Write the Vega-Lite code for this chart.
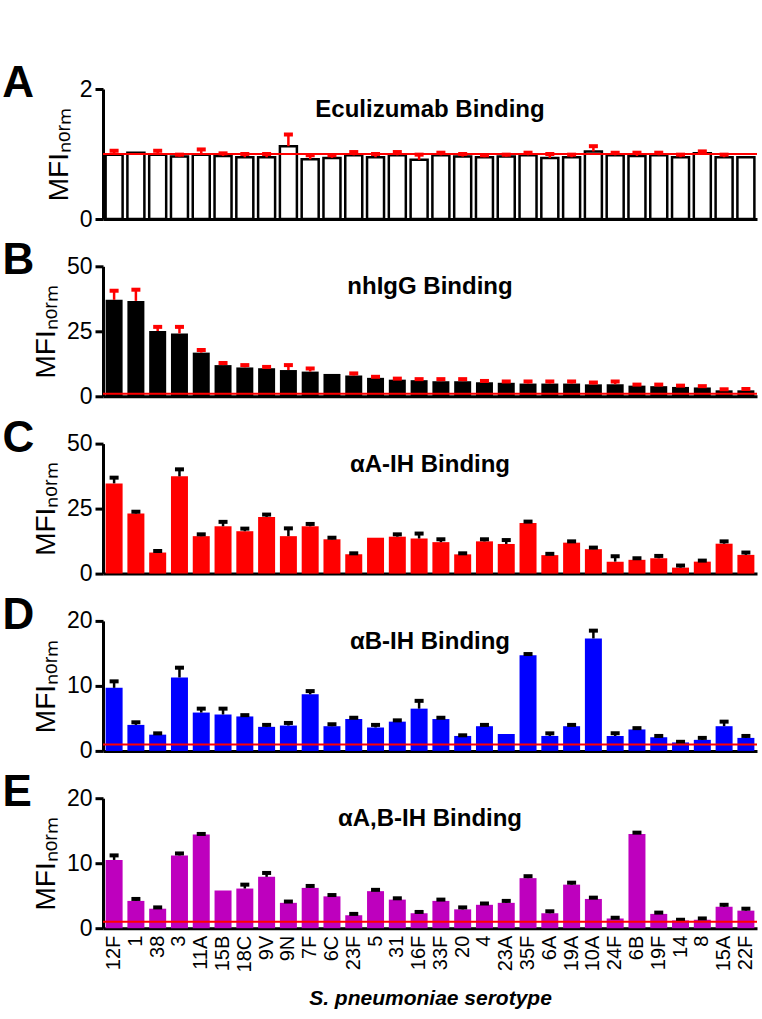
{
"$schema": "https://vega.github.io/schema/vega-lite/v6.json",
"background": "white",
"padding": {"left": 2, "top": 62, "right": 5, "bottom": 5},
"spacing": 8.3,
"datasets": {"d": [
{"s":"12F","p":"A","v":0.99,"u":1.05},{"s":"1","p":"A","v":1.02,"u":null},{"s":"38","p":"A","v":0.99,"u":1.05},{"s":"3","p":"A","v":0.96,"u":0.99},{"s":"11A","p":"A","v":0.99,"u":1.07},{"s":"15B","p":"A","v":0.97,"u":1.01},{"s":"18C","p":"A","v":0.95,"u":1.0},{"s":"9V","p":"A","v":0.95,"u":1.0},{"s":"9N","p":"A","v":1.12,"u":1.3},{"s":"7F","p":"A","v":0.92,"u":0.98},{"s":"6C","p":"A","v":0.94,"u":0.98},{"s":"23F","p":"A","v":0.98,"u":1.03},{"s":"5","p":"A","v":0.95,"u":1.0},{"s":"31","p":"A","v":0.98,"u":1.03},{"s":"16F","p":"A","v":0.91,"u":0.99},{"s":"33F","p":"A","v":0.98,"u":1.02},{"s":"20","p":"A","v":0.96,"u":1.0},{"s":"4","p":"A","v":0.95,"u":0.98},{"s":"23A","p":"A","v":0.96,"u":0.99},{"s":"35F","p":"A","v":0.98,"u":1.02},{"s":"6A","p":"A","v":0.94,"u":1.0},{"s":"19A","p":"A","v":0.95,"u":0.99},{"s":"10A","p":"A","v":1.04,"u":1.12},{"s":"24F","p":"A","v":0.98,"u":1.02},{"s":"6B","p":"A","v":0.97,"u":1.02},{"s":"19F","p":"A","v":0.98,"u":1.02},{"s":"14","p":"A","v":0.95,"u":0.99},{"s":"8","p":"A","v":1.01,"u":1.04},{"s":"15A","p":"A","v":0.95,"u":0.99},{"s":"22F","p":"A","v":0.95,"u":null},
{"s":"12F","p":"B","v":37.1,"u":40.6},{"s":"1","p":"B","v":36.7,"u":41.0},{"s":"38","p":"B","v":25.1,"u":26.7},{"s":"3","p":"B","v":24.2,"u":26.7},{"s":"11A","p":"B","v":16.8,"u":17.8},{"s":"15B","p":"B","v":12.0,"u":12.8},{"s":"18C","p":"B","v":11.1,"u":12.0},{"s":"9V","p":"B","v":10.8,"u":11.3},{"s":"9N","p":"B","v":10.1,"u":12.0},{"s":"7F","p":"B","v":9.5,"u":10.7},{"s":"6C","p":"B","v":8.6,"u":null},{"s":"23F","p":"B","v":8.0,"u":8.8},{"s":"5","p":"B","v":7.1,"u":7.5},{"s":"31","p":"B","v":6.4,"u":6.8},{"s":"16F","p":"B","v":6.2,"u":6.6},{"s":"33F","p":"B","v":5.8,"u":6.6},{"s":"20","p":"B","v":5.8,"u":6.6},{"s":"4","p":"B","v":5.4,"u":5.9},{"s":"23A","p":"B","v":5.2,"u":5.7},{"s":"35F","p":"B","v":4.9,"u":5.7},{"s":"6A","p":"B","v":4.9,"u":5.7},{"s":"19A","p":"B","v":4.9,"u":5.7},{"s":"10A","p":"B","v":4.6,"u":5.3},{"s":"24F","p":"B","v":4.6,"u":5.7},{"s":"6B","p":"B","v":4.1,"u":4.5},{"s":"19F","p":"B","v":3.9,"u":4.5},{"s":"14","p":"B","v":3.6,"u":4.1},{"s":"8","p":"B","v":3.4,"u":3.9},{"s":"15A","p":"B","v":2.3,"u":2.7},{"s":"22F","p":"B","v":2.3,"u":2.8},
{"s":"12F","p":"C","v":34.7,"u":36.9},{"s":"1","p":"C","v":23.1,"u":23.8},{"s":"38","p":"C","v":8.1,"u":8.7},{"s":"3","p":"C","v":37.4,"u":40.1},{"s":"11A","p":"C","v":14.4,"u":15.1},{"s":"15B","p":"C","v":18.2,"u":19.9},{"s":"18C","p":"C","v":16.3,"u":17.3},{"s":"9V","p":"C","v":21.8,"u":22.7},{"s":"9N","p":"C","v":14.4,"u":17.4},{"s":"7F","p":"C","v":18.2,"u":19.1},{"s":"6C","p":"C","v":13.2,"u":13.8},{"s":"23F","p":"C","v":7.4,"u":7.8},{"s":"5","p":"C","v":13.8,"u":null},{"s":"31","p":"C","v":14.2,"u":15.1},{"s":"16F","p":"C","v":13.5,"u":15.4},{"s":"33F","p":"C","v":12.1,"u":13.2},{"s":"20","p":"C","v":7.4,"u":7.8},{"s":"4","p":"C","v":12.4,"u":13.2},{"s":"23A","p":"C","v":11.4,"u":12.9},{"s":"35F","p":"C","v":19.5,"u":20.0},{"s":"6A","p":"C","v":7.1,"u":7.6},{"s":"19A","p":"C","v":11.9,"u":12.4},{"s":"10A","p":"C","v":9.4,"u":10.0},{"s":"24F","p":"C","v":4.6,"u":6.7},{"s":"6B","p":"C","v":5.3,"u":5.9},{"s":"19F","p":"C","v":5.9,"u":6.8},{"s":"14","p":"C","v":2.3,"u":3.1},{"s":"8","p":"C","v":4.6,"u":5.0},{"s":"15A","p":"C","v":11.5,"u":12.4},{"s":"22F","p":"C","v":7.2,"u":8.1},
{"s":"12F","p":"D","v":9.7,"u":10.7},{"s":"1","p":"D","v":4.0,"u":4.4},{"s":"38","p":"D","v":2.5,"u":2.7},{"s":"3","p":"D","v":11.3,"u":12.8},{"s":"11A","p":"D","v":5.9,"u":6.5},{"s":"15B","p":"D","v":5.6,"u":6.5},{"s":"18C","p":"D","v":5.3,"u":5.5},{"s":"9V","p":"D","v":3.7,"u":4.0},{"s":"9N","p":"D","v":3.9,"u":4.3},{"s":"7F","p":"D","v":8.7,"u":9.2},{"s":"6C","p":"D","v":3.8,"u":4.1},{"s":"23F","p":"D","v":4.9,"u":5.1},{"s":"5","p":"D","v":3.6,"u":4.0},{"s":"31","p":"D","v":4.5,"u":4.7},{"s":"16F","p":"D","v":6.5,"u":7.7},{"s":"33F","p":"D","v":4.9,"u":5.1},{"s":"20","p":"D","v":2.3,"u":2.4},{"s":"4","p":"D","v":3.8,"u":4.0},{"s":"23A","p":"D","v":2.6,"u":null},{"s":"35F","p":"D","v":14.7,"u":14.9},{"s":"6A","p":"D","v":2.3,"u":2.7},{"s":"19A","p":"D","v":3.8,"u":4.0},{"s":"10A","p":"D","v":17.3,"u":18.5},{"s":"24F","p":"D","v":2.3,"u":2.7},{"s":"6B","p":"D","v":3.3,"u":3.5},{"s":"19F","p":"D","v":2.1,"u":2.3},{"s":"14","p":"D","v":1.3,"u":1.4},{"s":"8","p":"D","v":1.7,"u":2.0},{"s":"15A","p":"D","v":3.8,"u":4.5},{"s":"22F","p":"D","v":2.0,"u":2.3},
{"s":"12F","p":"E","v":10.5,"u":11.2},{"s":"1","p":"E","v":4.2,"u":4.5},{"s":"38","p":"E","v":3.0,"u":3.2},{"s":"3","p":"E","v":11.2,"u":11.5},{"s":"11A","p":"E","v":14.4,"u":14.5},{"s":"15B","p":"E","v":5.8,"u":null},{"s":"18C","p":"E","v":6.1,"u":6.7},{"s":"9V","p":"E","v":7.9,"u":8.5},{"s":"9N","p":"E","v":3.9,"u":4.1},{"s":"7F","p":"E","v":6.2,"u":6.5},{"s":"6C","p":"E","v":4.9,"u":5.1},{"s":"23F","p":"E","v":2.0,"u":2.2},{"s":"5","p":"E","v":5.7,"u":5.9},{"s":"31","p":"E","v":4.4,"u":4.6},{"s":"16F","p":"E","v":2.3,"u":2.5},{"s":"33F","p":"E","v":4.2,"u":4.4},{"s":"20","p":"E","v":2.9,"u":3.2},{"s":"4","p":"E","v":3.6,"u":3.8},{"s":"23A","p":"E","v":3.9,"u":4.2},{"s":"35F","p":"E","v":7.7,"u":8.0},{"s":"6A","p":"E","v":2.3,"u":2.6},{"s":"19A","p":"E","v":6.7,"u":7.0},{"s":"10A","p":"E","v":4.5,"u":4.7},{"s":"24F","p":"E","v":1.5,"u":1.6},{"s":"6B","p":"E","v":14.5,"u":14.7},{"s":"19F","p":"E","v":2.2,"u":2.4},{"s":"14","p":"E","v":1.2,"u":1.3},{"s":"8","p":"E","v":1.3,"u":1.5},{"s":"15A","p":"E","v":3.3,"u":3.6},{"s":"22F","p":"E","v":2.7,"u":3.0}
]},
"data": {"name": "d"},
"vconcat": [
{
 "title": {"text": "A", "anchor": "start", "frame": "bounds", "fontSize": 44, "dx": -43, "dy": 63, "offset": 0, "baseline": "alphabetic"},
 "vconcat": [{
  "width": 654, "height": 130,
  "title": {"text": "Eculizumab Binding", "anchor": "middle", "frame": "group", "fontSize": 24, "dy": 63, "offset": 0, "baseline": "alphabetic"},
  "layer": [
   {"transform": [{"filter": "datum.p == 'A'"}],
    "mark": {"type": "bar", "fill": "white", "stroke": "black", "strokeWidth": 2.5},
    "encoding": {
     "x": {"field": "s", "type": "nominal", "title": null, "scale": {"domain": ["12F","1","38","3","11A","15B","18C","9V","9N","7F","6C","23F","5","31","16F","33F","20","4","23A","35F","6A","19A","10A","24F","6B","19F","14","8","15A","22F"], "paddingInner": 0.22, "paddingOuter": 0.12}, "axis": {"labels": false, "ticks": false, "title": null}},
     "y": {"field": "v", "type": "quantitative", "title": "MFIₙₒᵣₘ", "scale": {"domain": [0, 2]}, "axis": {"values": [0, 1, 2], "format": "d"}}}},
   {"transform": [{"filter": "datum.p == 'A' && datum.u != null"}],
    "mark": {"type": "rule", "color": "red", "strokeWidth": 2.5},
    "encoding": {"x": {"field": "s", "type": "nominal", "title": null}, "y": {"field": "v", "type": "quantitative", "title": "MFIₙₒᵣₘ"}, "y2": {"field": "u"}}},
   {"transform": [{"filter": "datum.p == 'A' && datum.u != null"}],
    "mark": {"type": "tick", "color": "red", "thickness": 4, "size": 9, "opacity": 1},
    "encoding": {"x": {"field": "s", "type": "nominal", "title": null}, "y": {"field": "u", "type": "quantitative", "title": "MFIₙₒᵣₘ"}}},
   {"data": {"values": [{}]},
    "mark": {"type": "rule", "color": "red", "strokeWidth": 2},
    "encoding": {"y": {"datum": 1, "type": "quantitative", "title": "MFIₙₒᵣₘ"}}}
  ]
 }]
},
{
 "title": {"text": "B", "anchor": "start", "frame": "bounds", "fontSize": 44, "dx": -30, "dy": 63, "offset": 0, "baseline": "alphabetic"},
 "vconcat": [{
  "width": 654, "height": 130,
  "title": {"text": "nhIgG Binding", "anchor": "middle", "frame": "group", "fontSize": 24, "dy": 63, "offset": 0, "baseline": "alphabetic"},
  "layer": [
   {"transform": [{"filter": "datum.p == 'B'"}],
    "mark": {"type": "bar", "fill": "black"},
    "encoding": {
     "x": {"field": "s", "type": "nominal", "title": null, "scale": {"domain": ["12F","1","38","3","11A","15B","18C","9V","9N","7F","6C","23F","5","31","16F","33F","20","4","23A","35F","6A","19A","10A","24F","6B","19F","14","8","15A","22F"], "paddingInner": 0.22, "paddingOuter": 0.12}, "axis": {"labels": false, "ticks": false, "title": null}},
     "y": {"field": "v", "type": "quantitative", "title": "MFIₙₒᵣₘ", "scale": {"domain": [0, 50]}, "axis": {"values": [0, 25, 50], "format": "d"}}}},
   {"transform": [{"filter": "datum.p == 'B' && datum.u != null"}],
    "mark": {"type": "rule", "color": "red", "strokeWidth": 2.5},
    "encoding": {"x": {"field": "s", "type": "nominal", "title": null}, "y": {"field": "v", "type": "quantitative", "title": "MFIₙₒᵣₘ"}, "y2": {"field": "u"}}},
   {"transform": [{"filter": "datum.p == 'B' && datum.u != null"}],
    "mark": {"type": "tick", "color": "red", "thickness": 4, "size": 9, "opacity": 1},
    "encoding": {"x": {"field": "s", "type": "nominal", "title": null}, "y": {"field": "u", "type": "quantitative", "title": "MFIₙₒᵣₘ"}}},
   {"data": {"values": [{}]},
    "mark": {"type": "rule", "color": "red", "strokeWidth": 2},
    "encoding": {"y": {"datum": 1, "type": "quantitative", "title": "MFIₙₒᵣₘ"}}}
  ]
 }]
},
{
 "title": {"text": "C", "anchor": "start", "frame": "bounds", "fontSize": 44, "dx": -30, "dy": 63, "offset": 0, "baseline": "alphabetic"},
 "vconcat": [{
  "width": 654, "height": 130,
  "title": {"text": "αA-IH Binding", "anchor": "middle", "frame": "group", "fontSize": 24, "dy": 63, "offset": 0, "baseline": "alphabetic"},
  "layer": [
   {"transform": [{"filter": "datum.p == 'C'"}],
    "mark": {"type": "bar", "fill": "#FF0000"},
    "encoding": {
     "x": {"field": "s", "type": "nominal", "title": null, "scale": {"domain": ["12F","1","38","3","11A","15B","18C","9V","9N","7F","6C","23F","5","31","16F","33F","20","4","23A","35F","6A","19A","10A","24F","6B","19F","14","8","15A","22F"], "paddingInner": 0.22, "paddingOuter": 0.12}, "axis": {"labels": false, "ticks": false, "title": null}},
     "y": {"field": "v", "type": "quantitative", "title": "MFIₙₒᵣₘ", "scale": {"domain": [0, 50]}, "axis": {"values": [0, 25, 50], "format": "d"}}}},
   {"transform": [{"filter": "datum.p == 'C' && datum.u != null"}],
    "mark": {"type": "rule", "color": "black", "strokeWidth": 2.5},
    "encoding": {"x": {"field": "s", "type": "nominal", "title": null}, "y": {"field": "v", "type": "quantitative", "title": "MFIₙₒᵣₘ"}, "y2": {"field": "u"}}},
   {"transform": [{"filter": "datum.p == 'C' && datum.u != null"}],
    "mark": {"type": "tick", "color": "black", "thickness": 4, "size": 9, "opacity": 1},
    "encoding": {"x": {"field": "s", "type": "nominal", "title": null}, "y": {"field": "u", "type": "quantitative", "title": "MFIₙₒᵣₘ"}}}
  ]
 }]
},
{
 "title": {"text": "D", "anchor": "start", "frame": "bounds", "fontSize": 44, "dx": -30, "dy": 63, "offset": 0, "baseline": "alphabetic"},
 "vconcat": [{
  "width": 654, "height": 130,
  "title": {"text": "αB-IH Binding", "anchor": "middle", "frame": "group", "fontSize": 24, "dy": 63, "offset": 0, "baseline": "alphabetic"},
  "layer": [
   {"transform": [{"filter": "datum.p == 'D'"}],
    "mark": {"type": "bar", "fill": "#0000FF"},
    "encoding": {
     "x": {"field": "s", "type": "nominal", "title": null, "scale": {"domain": ["12F","1","38","3","11A","15B","18C","9V","9N","7F","6C","23F","5","31","16F","33F","20","4","23A","35F","6A","19A","10A","24F","6B","19F","14","8","15A","22F"], "paddingInner": 0.22, "paddingOuter": 0.12}, "axis": {"labels": false, "ticks": false, "title": null}},
     "y": {"field": "v", "type": "quantitative", "title": "MFIₙₒᵣₘ", "scale": {"domain": [0, 20]}, "axis": {"values": [0, 10, 20], "format": "d"}}}},
   {"transform": [{"filter": "datum.p == 'D' && datum.u != null"}],
    "mark": {"type": "rule", "color": "black", "strokeWidth": 2.5},
    "encoding": {"x": {"field": "s", "type": "nominal", "title": null}, "y": {"field": "v", "type": "quantitative", "title": "MFIₙₒᵣₘ"}, "y2": {"field": "u"}}},
   {"transform": [{"filter": "datum.p == 'D' && datum.u != null"}],
    "mark": {"type": "tick", "color": "black", "thickness": 4, "size": 9, "opacity": 1},
    "encoding": {"x": {"field": "s", "type": "nominal", "title": null}, "y": {"field": "u", "type": "quantitative", "title": "MFIₙₒᵣₘ"}}},
   {"data": {"values": [{}]},
    "mark": {"type": "rule", "color": "red", "strokeWidth": 2},
    "encoding": {"y": {"datum": 1, "type": "quantitative", "title": "MFIₙₒᵣₘ"}}}
  ]
 }]
},
{
 "title": {"text": "E", "anchor": "start", "frame": "bounds", "fontSize": 44, "dx": -30, "dy": 63, "offset": 0, "baseline": "alphabetic"},
 "vconcat": [{
  "width": 654, "height": 130,
  "title": {"text": "αA,B-IH Binding", "anchor": "middle", "frame": "group", "fontSize": 24, "dy": 63, "offset": 0, "baseline": "alphabetic"},
  "layer": [
   {"transform": [{"filter": "datum.p == 'E'"}],
    "mark": {"type": "bar", "fill": "#BE00BE"},
    "encoding": {
     "x": {"field": "s", "type": "nominal", "title": "S. pneumoniae serotype", "scale": {"domain": ["12F","1","38","3","11A","15B","18C","9V","9N","7F","6C","23F","5","31","16F","33F","20","4","23A","35F","6A","19A","10A","24F","6B","19F","14","8","15A","22F"], "paddingInner": 0.22, "paddingOuter": 0.12}, "axis": {"labels": true, "ticks": false, "labelAngle": -90, "labelFont": "Liberation Sans", "labelFontSize": 20, "labelPadding": 7, "title": "S. pneumoniae serotype", "titleFont": "Liberation Sans", "titleFontStyle": "italic", "titleFontWeight": "bold", "titleFontSize": 21, "titlePadding": 16}},
     "y": {"field": "v", "type": "quantitative", "title": "MFIₙₒᵣₘ", "scale": {"domain": [0, 20]}, "axis": {"values": [0, 10, 20], "format": "d"}}}},
   {"transform": [{"filter": "datum.p == 'E' && datum.u != null"}],
    "mark": {"type": "rule", "color": "black", "strokeWidth": 2.5},
    "encoding": {"x": {"field": "s", "type": "nominal", "title": "S. pneumoniae serotype"}, "y": {"field": "v", "type": "quantitative", "title": "MFIₙₒᵣₘ"}, "y2": {"field": "u"}}},
   {"transform": [{"filter": "datum.p == 'E' && datum.u != null"}],
    "mark": {"type": "tick", "color": "black", "thickness": 4, "size": 9, "opacity": 1},
    "encoding": {"x": {"field": "s", "type": "nominal", "title": "S. pneumoniae serotype"}, "y": {"field": "u", "type": "quantitative", "title": "MFIₙₒᵣₘ"}}},
   {"data": {"values": [{}]},
    "mark": {"type": "rule", "color": "red", "strokeWidth": 2},
    "encoding": {"y": {"datum": 1, "type": "quantitative", "title": "MFIₙₒᵣₘ"}}}
  ]
 }]
}
],
"config": {
 "view": {"stroke": null},
 "axis": {"grid": false, "domainColor": "black", "domainWidth": 3, "tickColor": "black", "tickWidth": 3, "tickSize": 8, "labelColor": "black", "titleColor": "black", "labelFont": "Liberation Sans", "labelFontSize": 23, "labelPadding": 3},
 "axisY": {"titleFont": "Liberation Sans", "titleFontSize": 28, "titleFontWeight": "normal", "titlePadding": 6, "labelFlush": false},
 "title": {"color": "black", "font": "Liberation Sans", "fontWeight": "bold"}
}
}
